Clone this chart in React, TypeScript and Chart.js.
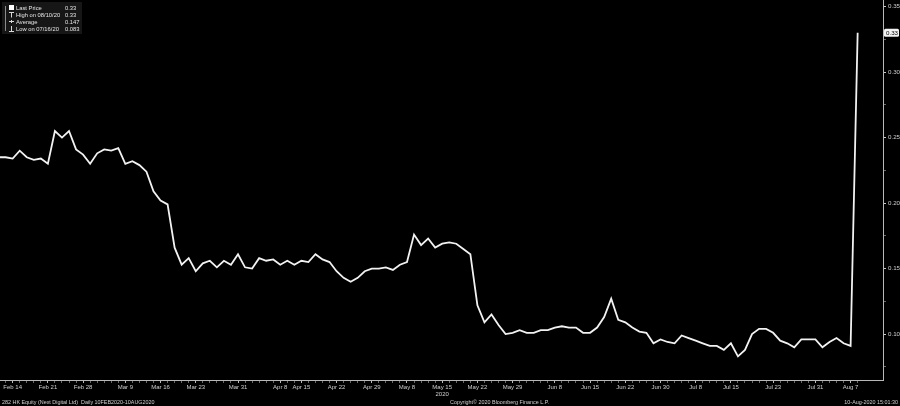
import React, { useEffect, useRef } from "react";
import { Chart, registerables } from "chart.js";

Chart.register(...registerables);

// Trading days (HK), 10 Feb 2020 – 10 Aug 2020
const dates: string[] = [
  "Feb 10", "Feb 11", "Feb 12", "Feb 13", "Feb 14", "Feb 17", "Feb 18", "Feb 19", "Feb 20", "Feb 21",
  "Feb 24", "Feb 25", "Feb 26", "Feb 27", "Feb 28",
  "Mar 2", "Mar 3", "Mar 4", "Mar 5", "Mar 6", "Mar 9", "Mar 10", "Mar 11", "Mar 12", "Mar 13",
  "Mar 16", "Mar 17", "Mar 18", "Mar 19", "Mar 20", "Mar 23", "Mar 24", "Mar 25", "Mar 26", "Mar 27",
  "Mar 30", "Mar 31",
  "Apr 1", "Apr 2", "Apr 3", "Apr 6", "Apr 7", "Apr 8", "Apr 9", "Apr 14", "Apr 15", "Apr 16",
  "Apr 17", "Apr 20", "Apr 21", "Apr 22", "Apr 23", "Apr 24", "Apr 27", "Apr 28", "Apr 29",
  "May 4", "May 5", "May 6", "May 7", "May 8", "May 11", "May 12", "May 13", "May 14", "May 15",
  "May 18", "May 19", "May 20", "May 21", "May 22", "May 25", "May 26", "May 27", "May 28", "May 29",
  "Jun 1", "Jun 2", "Jun 3", "Jun 4", "Jun 5", "Jun 8", "Jun 9", "Jun 10", "Jun 11", "Jun 12",
  "Jun 15", "Jun 16", "Jun 17", "Jun 18", "Jun 19", "Jun 22", "Jun 23", "Jun 24", "Jun 26",
  "Jun 29", "Jun 30",
  "Jul 2", "Jul 3", "Jul 6", "Jul 7", "Jul 8", "Jul 9", "Jul 10", "Jul 13", "Jul 14", "Jul 15",
  "Jul 16", "Jul 17", "Jul 20", "Jul 21", "Jul 22", "Jul 23", "Jul 24", "Jul 27", "Jul 28", "Jul 29",
  "Jul 30", "Jul 31",
  "Aug 3", "Aug 4", "Aug 5", "Aug 6", "Aug 7", "Aug 10",
];

const prices: number[] = [
  0.236, 0.235, 0.235, 0.235, 0.234, 0.240, 0.235, 0.233, 0.234, 0.230,
  0.255, 0.250, 0.255, 0.241, 0.237,
  0.230, 0.238, 0.241, 0.240, 0.242, 0.230, 0.232, 0.229, 0.224, 0.209,
  0.202, 0.199, 0.166, 0.153, 0.158, 0.148, 0.154, 0.156, 0.151, 0.156,
  0.153, 0.161,
  0.151, 0.150, 0.158, 0.156, 0.157, 0.153, 0.156, 0.153, 0.156, 0.155,
  0.161, 0.157, 0.155, 0.148, 0.143, 0.140, 0.143, 0.148, 0.150,
  0.150, 0.151, 0.149, 0.153, 0.155, 0.176, 0.168, 0.173, 0.166, 0.169,
  0.170, 0.169, 0.165, 0.161, 0.122, 0.109, 0.115, 0.107, 0.100, 0.101,
  0.103, 0.101, 0.101, 0.103, 0.103, 0.105, 0.106, 0.105, 0.105, 0.101,
  0.101, 0.105, 0.113, 0.127, 0.111, 0.109, 0.105, 0.102, 0.101,
  0.093, 0.096,
  0.094, 0.093, 0.099, 0.097, 0.095, 0.093, 0.091, 0.091, 0.088, 0.093,
  0.083, 0.088, 0.100, 0.104, 0.104, 0.101, 0.095, 0.093, 0.090, 0.096,
  0.096, 0.096,
  0.090, 0.094, 0.097, 0.093, 0.091, 0.330,
];

const tickDates: string[] = [
  "Feb 14", "Feb 21", "Feb 28", "Mar 9", "Mar 16", "Mar 23", "Mar 31", "Apr 8", "Apr 15",
  "Apr 22", "Apr 29", "May 8", "May 15", "May 22", "May 29", "Jun 8", "Jun 15", "Jun 22",
  "Jun 30", "Jul 8", "Jul 15", "Jul 23", "Jul 31", "Aug 7",
];
const yearLabelDate = "May 15";
const yearLabel = "2020";

const yTickValues: number[] = [
  0.075, 0.1, 0.125, 0.15, 0.175, 0.2, 0.225, 0.25, 0.275, 0.3, 0.325, 0.35,
];
const yLabelValues: number[] = [0.1, 0.15, 0.2, 0.25, 0.3, 0.35];

const legendLabels: string[] = ["Last Price", "High on 08/10/20", "Average", "Low on 07/16/20"];
const legendValues: string[] = ["0.33", "0.33", "0.147", "0.083"];
const lastPriceLabel = "0.33";

const footerLeft = "282 HK Equity (Next Digital Ltd)  Daily 10FEB2020-10AUG2020";
const footerCenter = "Copyright\u00A9 2020 Bloomberg Finance L.P.";
const footerRight = "10-Aug-2020 15:01:30";

const FONT = '"Liberation Sans", Arial, sans-serif';

const overlayPlugin = {
  id: "bbgOverlay",
  afterDraw(chart: any) {
    const ctx: CanvasRenderingContext2D = chart.ctx;
    const ys = chart.scales.y;
    ctx.save();

    // legend box
    ctx.fillStyle = "#161616";
    ctx.fillRect(2, 2, 80, 32);
    ctx.strokeStyle = "#8a8a8a";
    ctx.lineWidth = 1;
    ctx.beginPath();
    ctx.moveTo(5.5, 6);
    ctx.lineTo(5.5, 31);
    ctx.stroke();
    ctx.fillStyle = "#ffffff";
    ctx.fillRect(9, 5, 5, 5);
    ctx.strokeStyle = "#d8d8d8";
    ctx.beginPath();
    ctx.moveTo(9, 12.5);
    ctx.lineTo(14, 12.5);
    ctx.moveTo(11.5, 12.5);
    ctx.lineTo(11.5, 17.5);
    ctx.stroke();
    ctx.beginPath();
    ctx.moveTo(9, 21.5);
    ctx.lineTo(14, 21.5);
    ctx.moveTo(11.5, 20);
    ctx.lineTo(11.5, 23);
    ctx.stroke();
    ctx.beginPath();
    ctx.moveTo(11.5, 26);
    ctx.lineTo(11.5, 31.5);
    ctx.moveTo(9, 31.5);
    ctx.lineTo(14, 31.5);
    ctx.stroke();

    ctx.font = `5.8px ${FONT}`;
    ctx.textBaseline = "middle";
    ctx.fillStyle = "#e4e4e4";
    const rowsY = [8, 15, 22, 29];
    legendLabels.forEach((lab, i) => {
      ctx.textAlign = "left";
      ctx.fillText(lab, 16, rowsY[i]);
      ctx.fillText(legendValues[i], 65, rowsY[i]);
    });

    // last price marker on the axis
    const py = ys.getPixelForValue(prices[prices.length - 1]);
    ctx.fillStyle = "#f4f4f4";
    ctx.beginPath();
    (ctx as any).roundRect(884, py - 4, 15, 8, 1.5);
    ctx.fill();
    ctx.fillStyle = "#000000";
    ctx.font = `6.2px ${FONT}`;
    ctx.textAlign = "left";
    ctx.fillText(lastPriceLabel, 886, py + 0.5);

    // footer
    ctx.font = `5.4px ${FONT}`;
    ctx.fillStyle = "#cfcfcf";
    ctx.textBaseline = "alphabetic";
    ctx.textAlign = "left";
    ctx.fillText(footerLeft, 2, 404);
    ctx.fillText(footerCenter, 450, 404);
    ctx.textAlign = "right";
    ctx.fillText(footerRight, 898, 404);

    ctx.restore();
  },
};

export default function App() {
  const canvasRef = useRef<HTMLCanvasElement | null>(null);

  useEffect(() => {
    const canvas = canvasRef.current;
    if (!canvas) return;
    Chart.defaults.font.family = FONT;

    const chart = new Chart(canvas, {
      type: "line",
      data: {
        datasets: [
          {
            data: prices.map((p, i) => ({ x: i, y: p })),
            borderColor: "#f2f2f2",
            borderWidth: 1.8,
            pointRadius: 0,
            tension: 0,
            fill: false,
          },
        ],
      },
      options: {
        animation: false,
        responsive: false,
        maintainAspectRatio: false,
        layout: { padding: 0 },
        plugins: {
          legend: { display: false },
          tooltip: { enabled: false },
        },
        scales: {
          x: {
            type: "linear",
            position: "bottom",
            min: 2.2,
            max: 127.6,
            afterBuildTicks: (s: any) => {
              s.ticks = dates
                .map((_, i) => ({ value: i }))
                .filter((t) => t.value >= 3);
            },
            afterFit: (s: any) => {
              s.height = 26;
              s.paddingLeft = 0;
              s.paddingRight = 0;
            },
            grid: {
              display: true,
              drawOnChartArea: false,
              drawTicks: true,
              tickLength: 3,
              tickColor: (c: any) =>
                tickDates.includes(dates[Math.round(c.tick?.value ?? -1)]) ? "#bbbbbb" : "#6a6a6a",
            },
            border: { display: true, color: "#b8b8b8", width: 1 },
            ticks: {
              autoSkip: false,
              maxRotation: 0,
              minRotation: 0,
              padding: 1,
              color: "#cfcfcf",
              font: { size: 6, family: FONT },
              callback: (v: any) => {
                const d = dates[Math.round(Number(v))];
                if (!d || !tickDates.includes(d)) return "";
                return d === yearLabelDate ? [d, yearLabel] : d;
              },
            },
          },
          y: {
            type: "linear",
            position: "right",
            min: 0.065,
            max: 0.355,
            afterBuildTicks: (s: any) => {
              s.ticks = yTickValues.map((v) => ({ value: v }));
            },
            afterFit: (s: any) => {
              s.width = 17;
              s.paddingTop = 0;
              s.paddingBottom = 0;
            },
            grid: {
              display: true,
              drawOnChartArea: false,
              drawTicks: true,
              tickLength: 3,
              tickColor: (c: any) =>
                yLabelValues.some((v) => Math.abs(v - (c.tick?.value ?? 0)) < 1e-6)
                  ? "#c8c8c8"
                  : "#6a6a6a",
            },
            border: { display: true, color: "#b8b8b8", width: 1 },
            ticks: {
              padding: 2,
              color: "#cfcfcf",
              font: { size: 6.2, family: FONT },
              callback: (v: any) => {
                const n = Number(v);
                return yLabelValues.some((x) => Math.abs(x - n) < 1e-6) ? n.toFixed(2) : "";
              },
            },
          },
        },
      },
      plugins: [overlayPlugin],
    } as any);

    return () => chart.destroy();
  }, []);

  return (
    <div
      style={{
        position: "fixed",
        left: 0,
        top: 0,
        width: 900,
        height: 406,
        background: "#000000",
      }}
    >
      <canvas ref={canvasRef} width={900} height={406} style={{ display: "block" }} />
    </div>
  );
}
